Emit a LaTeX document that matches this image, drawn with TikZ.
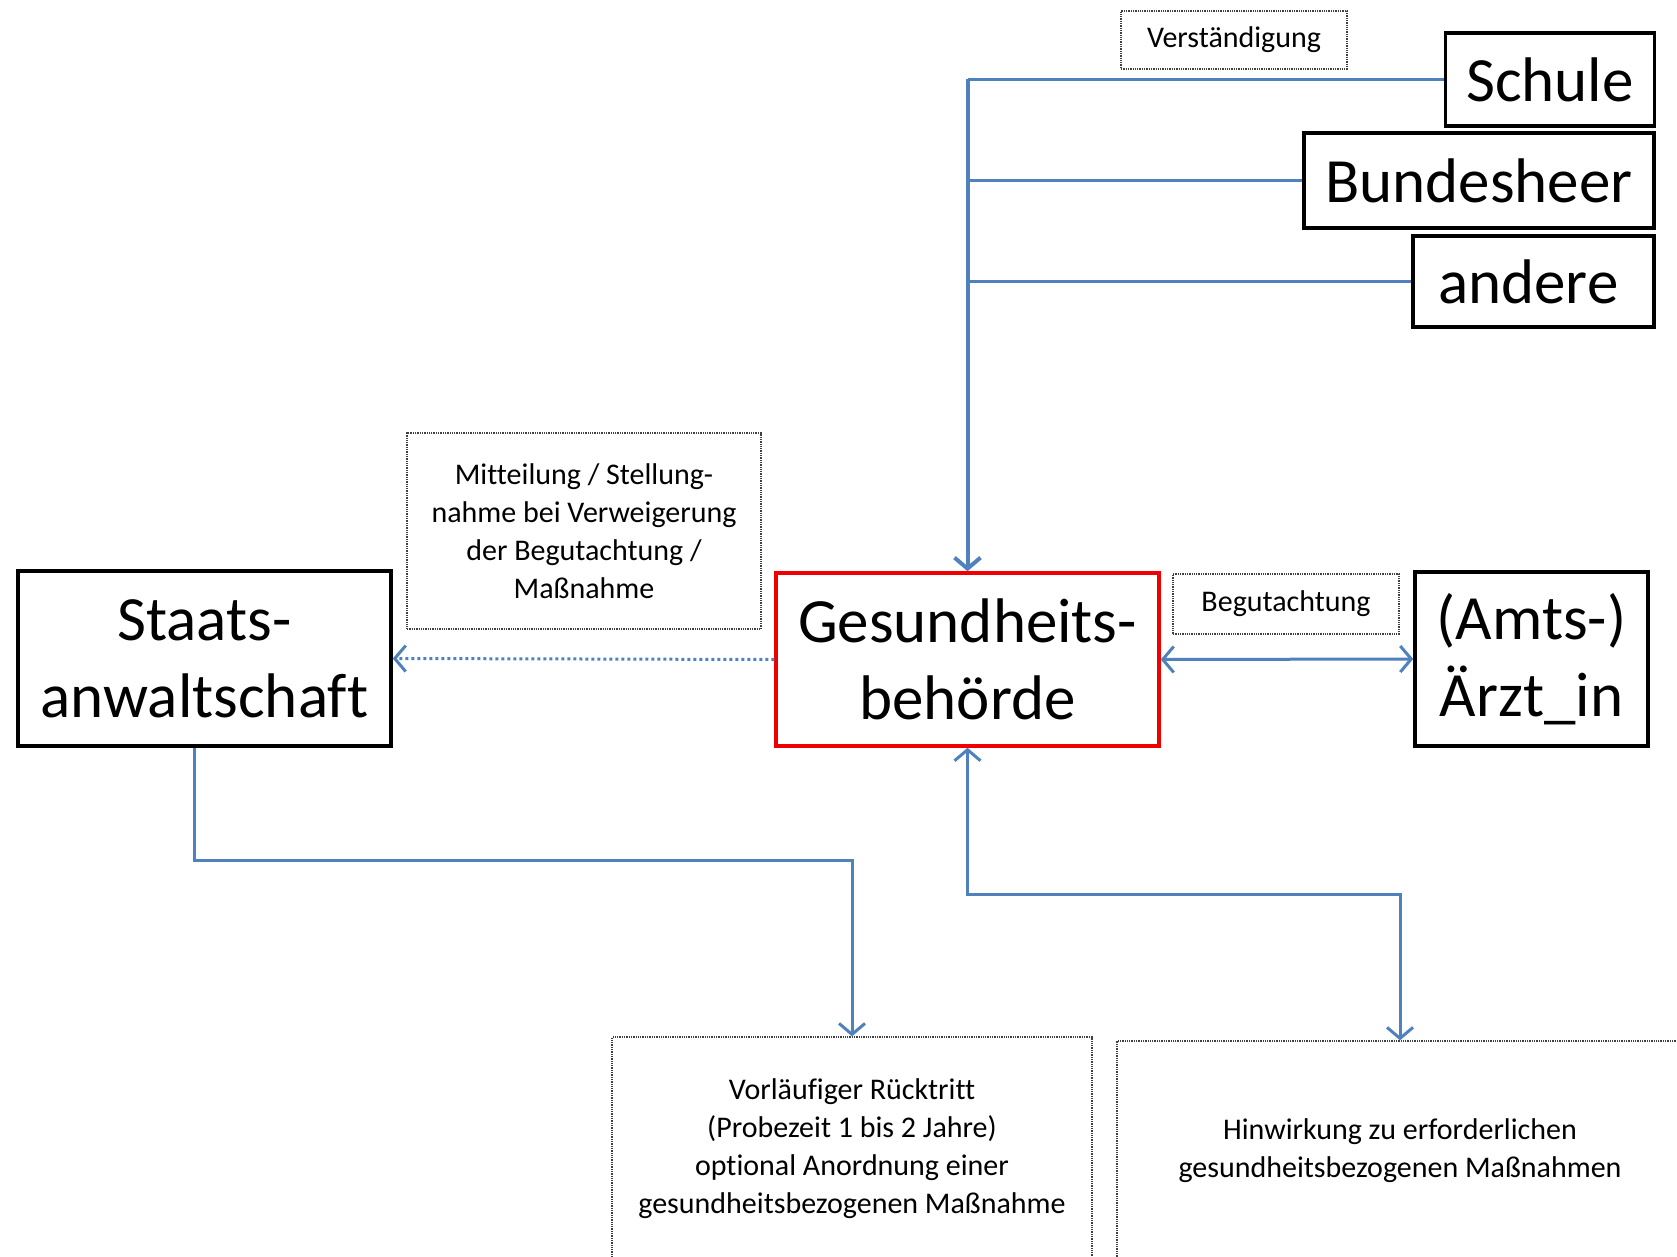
\documentclass[tikz,border=0pt]{standalone}
\usepackage{fontspec}
\setmainfont{Carlito}[Ligatures=NoCommon]
\usepackage{tikz}
\usetikzlibrary{arrows.meta,calc}
\definecolor{link-blue}{RGB}{79,129,189}
\definecolor{frame-red}{RGB}{240,0,0}
\tikzstyle{bigbox}=[draw=black, line width=3.5pt, align=center, inner sep=0pt, font=\fontsize{63}{77}\selectfont]
\tikzstyle{notebox}=[draw=black!75, densely dotted, line width=1.3pt, align=center, inner sep=0pt, font=\fontsize{30}{38}\selectfont]
\tikzstyle{link}=[draw=link-blue, line width=3pt]
\tikzstyle{trunk}=[draw=link-blue, line width=4pt]

\begin{document}
\begin{tikzpicture}[x=1pt, y=-1pt, >={Straight Barb[length=11pt,width=26pt]}]
	\useasboundingbox (0,0) rectangle (1677,1257);
	% senders top right
	\node[bigbox, minimum width=209pt, minimum height=93pt] (schule) at (1550,79.5) {Schule};
	\node[bigbox, minimum width=350pt, minimum height=95pt] (heer) at (1479,180.5) {Bundesheer};
	\node[bigbox, minimum width=241pt, minimum height=91pt] (andere) at (1533.5,281.5) {andere\,};
	\node[notebox, minimum width=226pt, minimum height=58pt] (verst) at (1234,40) {Verständigung};
	% middle row
	\node[bigbox, minimum width=373pt, minimum height=175pt] (staats) at (204.5,658.5) {Staats-\\anwaltschaft};
	\node[bigbox, draw=frame-red, minimum width=383pt, minimum height=173pt] (gesund) at (967.5,659.5) {Gesundheits-\\behörde};
	\node[bigbox, minimum width=233pt, minimum height=174pt] (arzt) at (1531.5,659) {(Amts-)\\Ärzt\_in};
	\node[notebox, minimum width=354pt, minimum height=196pt] (mitteil) at (584,531) {Mitteilung / Stellung-\\nahme bei Verweigerung\\der Begutachtung /\\Maßnahme};
	\node[notebox, minimum width=226pt, minimum height=60pt] (begut) at (1286,604) {Begutachtung};
	% results bottom
	\node[notebox, minimum width=480pt, minimum height=224pt] (ruecktritt) at (852,1149) {Vorläufiger Rücktritt\\(Probezeit 1 bis 2 Jahre)\\optional Anordnung einer\\gesundheitsbezogenen Maßnahme};
	\node[notebox, minimum width=566pt, minimum height=220pt] (hinwirk) at (1400,1151) {Hinwirkung zu erforderlichen\\gesundheitsbezogenen Maßnahmen};

	\draw[link] (schule.west) -- (schule.west -| gesund.north);
	\draw[link] (heer.west) -- (heer.west -| gesund.north);
	\draw[link] (andere.west) -- (andere.west -| gesund.north);
	\draw[trunk,->] (schule.west -| gesund.north) -- (gesund.north);
	\draw[link,dash pattern=on 3pt off 3pt,->] (gesund.west) -- (staats.east);
	\draw[link,<->] (gesund.east) -- (arzt.west);
	\draw[link,->] ([xshift=-10pt]staats.south) -- ++(0,113) -| (ruecktritt.north);
	\draw[link,<->] (gesund.south) -- ++(0,147) -| (hinwirk.north);
\end{tikzpicture}
\end{document}
